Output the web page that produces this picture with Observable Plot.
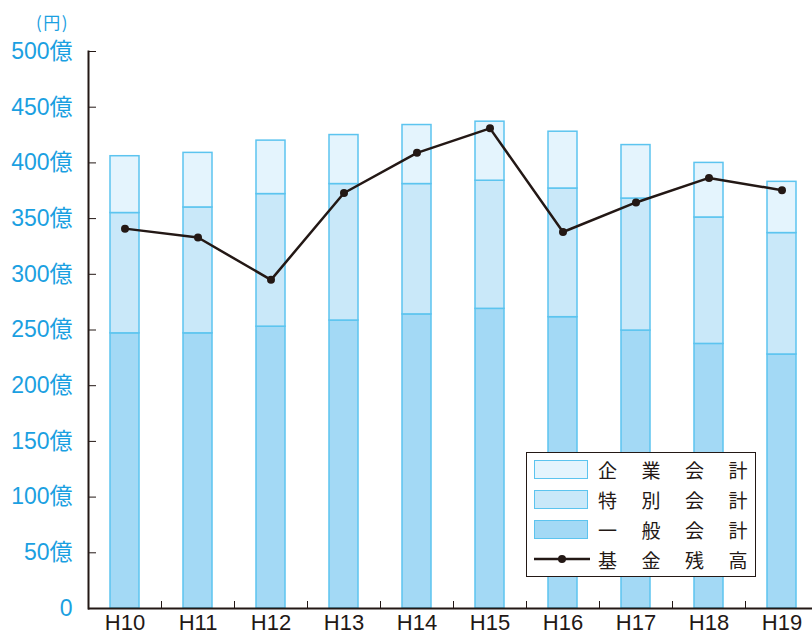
<!DOCTYPE html>
<html><head><meta charset="utf-8">
<script src="https://cdn.jsdelivr.net/npm/d3@7"></script>
<script src="https://cdn.jsdelivr.net/npm/@observablehq/plot@0.6"></script>
<style>
body{margin:0;background:#fff}
#wrap{position:relative;width:812px;height:636px;overflow:hidden}
#unit{position:absolute;left:36px;top:12px;font-family:"Noto Sans CJK JP",sans-serif;font-size:17px;line-height:20px;letter-spacing:1.5px;color:#1ba0e1;white-space:nowrap}
#legend{position:absolute;left:526px;top:452px;width:228px;height:123px;border:1.5px solid #231815;background:#fff;font-family:"Noto Sans CJK JP",sans-serif;color:#231815}
.sw{position:absolute;left:7px;width:52px;height:17px;border:1.5px solid #5cc4ef}
.lt{position:absolute;left:71px;font-size:19px;line-height:20px;letter-spacing:24.5px;white-space:nowrap}
</style></head><body><div id="wrap"></div>
<script>
const years = ["H10","H11","H12","H13","H14","H15","H16","H17","H18","H19"];
const general    = [247, 247, 253, 258.5, 264, 269, 261.5, 249.5, 237.5, 228];
const special    = [108, 113, 119, 122.5, 117, 115, 115.5, 118.5, 113.5, 109];
const enterprise = [51, 49, 48, 44, 53, 53, 51, 48, 49, 46];
const fund       = [341, 333, 295, 373, 409, 431, 338, 364.5, 386.5, 375.5];
const yTicks = [0, 50, 100, 150, 200, 250, 300, 350, 400, 450, 500];
const seriesNames = ["一般会計", "特別会計", "企業会計"];
const lineName = "基金残高";
const unitLabel = "(円)";
const seriesColors = ["#a3d9f5", "#c9e8f9", "#e4f4fd"];

const rows = [];
years.forEach((yr, i) => {
  rows.push({year: yr, series: seriesNames[0], value: general[i]});
  rows.push({year: yr, series: seriesNames[1], value: special[i]});
  rows.push({year: yr, series: seriesNames[2], value: enterprise[i]});
});
const fundRows = years.map((yr, i) => ({year: yr, value: fund[i]}));

const ML = 88, MT = 51, MB = 28, STEP = 73;
const ink = "#231815", cyan = "#1ba0e1";
const plot = Plot.plot({
  width: 812, height: 636,
  marginLeft: ML, marginRight: 0, marginTop: MT, marginBottom: MB,
  style: {fontFamily: "'Liberation Sans', Arial, 'Noto Sans CJK JP', sans-serif", background: "#fff", overflow: "visible"},
  x: {domain: years, range: [ML, ML + STEP * years.length], padding: 0, label: null},
  y: {domain: [0, 500], label: null},
  color: {domain: seriesNames, range: seriesColors},
  marks: [
    Plot.barY(rows, {x: "year", y: "value", fill: "series", order: seriesNames, stroke: "#5cc4ef", strokeWidth: 1.5, insetLeft: 22, insetRight: 22}),
    Plot.axisY({ticks: yTicks, anchor: "left", tickSize: 0, tickPadding: 16, fontSize: 23, fill: cyan, tickFormat: d => d === 0 ? "0" : d + "億", label: null}),
    Plot.axisY({ticks: yTicks, anchor: "left", tickSize: -8, tickFormat: () => "", stroke: ink, label: null}),
    Plot.axisX({anchor: "bottom", tickSize: 0, tickPadding: 6, fontSize: 22, fill: ink, label: null}),
    Plot.axisX({anchor: "bottom", tickSize: -7, dx: STEP / 2, tickFormat: () => "", stroke: ink, label: null}),
    Plot.frame({anchor: "left", stroke: ink, strokeWidth: 2}),
    Plot.ruleY([0], {stroke: ink, strokeWidth: 2}),
    Plot.line(fundRows, {x: "year", y: "value", stroke: ink, strokeWidth: 2.5}),
    Plot.dot(fundRows, {x: "year", y: "value", r: 4, fill: ink})
  ]
});
const wrap = document.getElementById("wrap");
wrap.appendChild(plot);

const unit = document.createElement("div");
unit.id = "unit";
unit.textContent = unitLabel;
wrap.appendChild(unit);

const legend = document.createElement("div");
legend.id = "legend";
const tops = [7, 37, 67];
seriesNames.slice().reverse().forEach((name, k) => {
  const sw = document.createElement("div");
  sw.className = "sw";
  sw.style.top = tops[k] + "px";
  sw.style.background = seriesColors[seriesNames.length - 1 - k];
  legend.appendChild(sw);
  const t = document.createElement("div");
  t.className = "lt";
  t.style.top = (tops[k]) + "px";
  t.textContent = name;
  legend.appendChild(t);
});
const ls = document.createElementNS("http://www.w3.org/2000/svg", "svg");
ls.setAttribute("width", 60); ls.setAttribute("height", 12);
ls.style.position = "absolute"; ls.style.left = "6px"; ls.style.top = "100px";
ls.innerHTML = `<line x1="1" y1="6" x2="57" y2="6" stroke="${ink}" stroke-width="2.5"/><circle cx="29" cy="6" r="4" fill="${ink}"/>`;
legend.appendChild(ls);
const lt = document.createElement("div");
lt.className = "lt"; lt.style.top = "97px"; lt.textContent = lineName;
legend.appendChild(lt);
wrap.appendChild(legend);
</script></body></html>
